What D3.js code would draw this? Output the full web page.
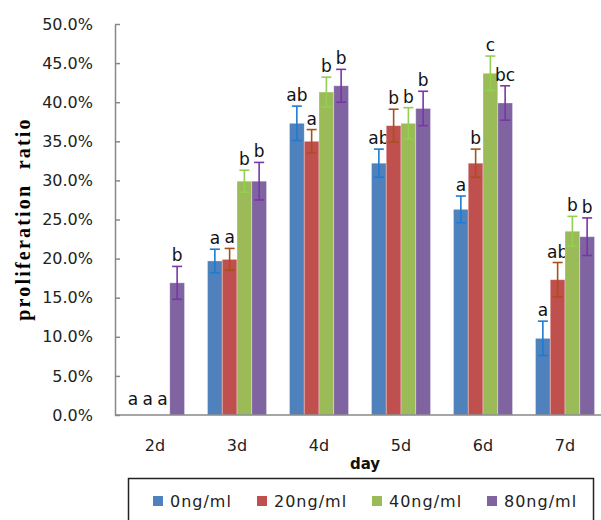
<!DOCTYPE html>
<html>
<head>
<meta charset="utf-8">
<script src="https://cdn.jsdelivr.net/npm/d3@7"></script>
<style>
  body { margin: 0; background: #fff; }
  svg { display: block; }
</style>
</head>
<body>
<svg id="chart" width="601" height="520"></svg>
<script>
// data
const days = ["2d", "3d", "4d", "5d", "6d", "7d"];
const doses = ["0ng/ml", "20ng/ml", "40ng/ml", "80ng/ml"];

const means = [
    [0, 19.7, 37.3, 32.2, 26.3, 9.8],    // 0ng/ml
    [0, 19.9, 35.0, 37.0, 32.2, 17.3],   // 20ng/ml
    [0, 29.9, 41.3, 37.3, 43.7, 23.5],   // 40ng/ml
    [16.9, 29.9, 42.1, 39.2, 39.9, 22.8] // 80ng/ml
];
const errs = [
    [0, 1.5, 2.2, 1.8, 1.7, 2.2],
    [0, 1.4, 1.5, 2.1, 1.8, 2.2],
    [0, 1.4, 1.9, 2.0, 2.2, 1.9],
    [2.1, 2.4, 2.1, 2.2, 2.2, 2.4]
];
const letters = [
    ["a", "a", "ab", "ab", "a", "a"],
    ["a", "a", "a", "b", "b", "ab"],
    ["a", "b", "b", "b", "c", "b"],
    ["b", "b", "b", "b", "bc", "b"]
];
const yTicks = [0, 5, 10, 15, 20, 25, 30, 35, 40, 45, 50];

const barColors = ["#4F81BD", "#C0504D", "#9BBB59", "#8064A2"];
const errColors = ["#1F7BD0", "#A8501A", "#92D050", "#7A35A8"];

const svg = d3.select("#chart");

const x0 = d3.scaleBand().domain(days).range([114, 606]).paddingInner(0.28).paddingOuter(0.14);
const x1 = d3.scaleBand().domain(doses).range([0, x0.bandwidth()]);
const y = d3.scaleLinear().domain([0, 50]).range([415, 24]);

// y axis
const yAxis = svg.append("g")
    .attr("transform", "translate(115,0)")
    .call(d3.axisLeft(y).tickValues(yTicks).tickSizeInner(-5).tickSizeOuter(0)
        .tickPadding(22).tickFormat(d => d.toFixed(1) + "%"));
yAxis.select(".domain").attr("stroke", "#888").attr("stroke-width", 1.5);
yAxis.selectAll(".tick line").attr("stroke", "#888").attr("stroke-width", 1.5);
yAxis.selectAll(".tick text")
    .attr("font-family", "DejaVu Sans")
    .attr("font-size", 16)
    .attr("fill", "#222");

// bars
const groups = svg.append("g").selectAll("g")
    .data(doses)
    .join("g");

groups.each(function(dose, s) {
    const g = d3.select(this);
    days.forEach((day, i) => {
        const v = means[s][i];
        const cx = x0(day) + x1(dose) + x1.bandwidth() / 2;
        if (v > 0) {
            g.append("rect")
                .attr("x", x0(day) + x1(dose))
                .attr("y", y(v))
                .attr("width", x1.bandwidth())
                .attr("height", y(0) - y(v))
                .attr("fill", barColors[s])
                .attr("stroke", "#fff")
                .attr("stroke-opacity", 0.4)
                .attr("stroke-width", 0.8);
        }
        const e = errs[s][i];
        if (e > 0) {
            g.append("line")
                .attr("x1", cx).attr("x2", cx)
                .attr("y1", y(v - e)).attr("y2", y(v + e))
                .attr("stroke", errColors[s]).attr("stroke-width", 1.6);
            [v - e, v + e].forEach(t => {
                g.append("line")
                    .attr("x1", cx - 5).attr("x2", cx + 5)
                    .attr("y1", y(t)).attr("y2", y(t))
                    .attr("stroke", errColors[s]).attr("stroke-width", 1.6);
            });
        }
        g.append("text")
            .attr("x", cx)
            .attr("y", v + e > 0 ? y(v + e) - 5 : y(0) - 10)
            .attr("text-anchor", "middle")
            .attr("font-family", "DejaVu Sans")
            .attr("font-size", 17)
            .attr("fill", "#111")
            .text(letters[s][i]);
    });
});

// x axis
svg.append("line")
    .attr("x1", 115).attr("x2", 606)
    .attr("y1", y(0)).attr("y2", y(0))
    .attr("stroke", "#888").attr("stroke-width", 1.5);

svg.append("g").selectAll("text")
    .data(days)
    .join("text")
    .attr("x", d => x0(d) + x0.bandwidth() / 2)
    .attr("y", 451)
    .attr("text-anchor", "middle")
    .attr("font-family", "DejaVu Sans")
    .attr("font-size", 16)
    .attr("fill", "#222")
    .text(d => d);

svg.append("text")
    .attr("x", 365).attr("y", 469)
    .attr("text-anchor", "middle")
    .attr("font-family", "DejaVu Sans")
    .attr("font-weight", "bold")
    .attr("font-size", 15)
    .attr("fill", "#111")
    .text("day");

svg.append("text")
    .attr("transform", "translate(30,219) rotate(-90)")
    .attr("text-anchor", "middle")
    .attr("font-family", "Liberation Serif")
    .attr("font-weight", "bold")
    .attr("font-size", 20)
    .attr("letter-spacing", 2.2)
    .attr("fill", "#000")
    .attr("xml:space", "preserve")
    .text("proliferation  ratio");

// legend
svg.append("rect")
    .attr("x", 128.5).attr("y", 478.5)
    .attr("width", 465).attr("height", 60)
    .attr("fill", "none")
    .attr("stroke", "#222").attr("stroke-width", 1.5);

const legendX = [153, 257, 372, 487];
const legend = svg.append("g").selectAll("g")
    .data(doses)
    .join("g")
    .attr("transform", (d, i) => `translate(${legendX[i]},501)`);

legend.append("rect")
    .attr("x", 0).attr("y", -5)
    .attr("width", 10).attr("height", 10)
    .attr("fill", (d, i) => barColors[i]);

legend.append("text")
    .attr("x", 17).attr("y", 6)
    .attr("font-family", "DejaVu Sans")
    .attr("font-size", 16)
    .attr("letter-spacing", 1)
    .attr("fill", "#222")
    .text(d => d);
</script>
</body>
</html>
